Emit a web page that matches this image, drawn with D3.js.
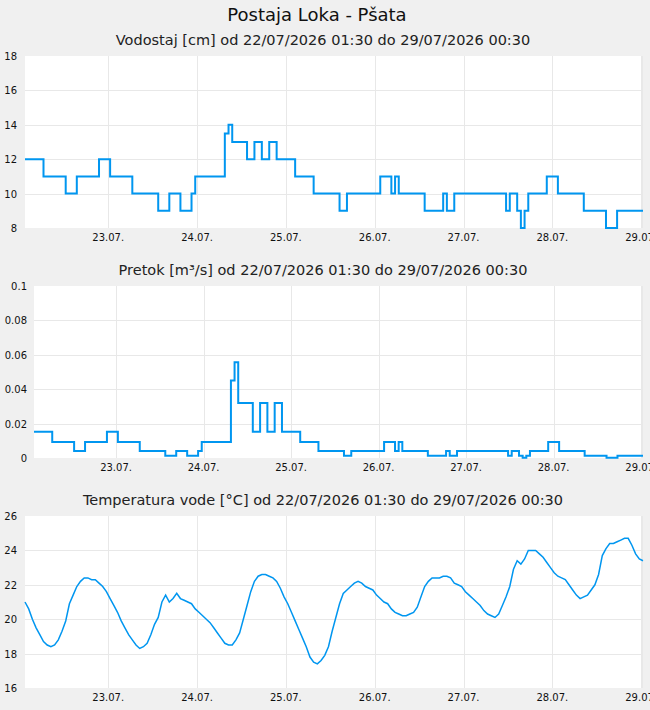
<!DOCTYPE html>
<html>
<head>
<meta charset="utf-8">
<script src="https://cdn.jsdelivr.net/npm/d3@7"></script>
<style>
  body { margin: 0; background: #f0f0f0; font-family: "DejaVu Sans", sans-serif; }
  svg text { fill: #111; }
</style>
</head>
<body>
<div id="chart"></div>
<script>
// Hourly readings from 22/07/2026 01:30 to 29/07/2026 00:30
const startTime = new Date(2026, 6, 22, 1, 30);
const endTime = new Date(2026, 6, 29, 0, 30);

const mainTitle = "Postaja Loka - Pšata";
const panelTitles = [
    "Vodostaj [cm] od 22/07/2026 01:30 do 29/07/2026 00:30",
    "Pretok [m³/s] od 22/07/2026 01:30 do 29/07/2026 00:30",
    "Temperatura vode [°C] od 22/07/2026 01:30 do 29/07/2026 00:30"
];

// water level [cm]
const level = [
    12,12,12,12,12,11,11,11,11,11,11,10,
    10,10,11,11,11,11,11,11,12,12,12,11,
    11,11,11,11,11,10,10,10,10,10,10,10,
    9,9,9,10,10,10,9,9,9,10,11,11,
    11,11,11,11,11,11,13.5,14,13,13,13,13,
    12,12,13,13,12,12,13,13,12,12,12,12,
    12,11,11,11,11,11,10,10,10,10,10,10,
    10,9,9,10,10,10,10,10,10,10,10,10,
    11,11,11,10,11,10,10,10,10,10,10,10,
    9,9,9,9,9,10,9,9,10,10,10,10,
    10,10,10,10,10,10,10,10,10,10,9,10,
    10,9,8,9,10,10,10,10,10,11,11,11,
    10,10,10,10,10,10,10,9,9,9,9,9,
    9,8,8,8,9,9,9,9,9,9,9,9
];

// discharge [m3/s]
const flow = [
    .0153,.0153,.0153,.0153,.0153,.0093,.0093,.0093,.0093,.0093,.0093,.0041,
    .0041,.0041,.0093,.0093,.0093,.0093,.0093,.0093,.0153,.0153,.0153,.0093,
    .0093,.0093,.0093,.0093,.0093,.0041,.0041,.0041,.0041,.0041,.0041,.0041,
    .0013,.0013,.0013,.0041,.0041,.0041,.0013,.0013,.0013,.0041,.0093,.0093,
    .0093,.0093,.0093,.0093,.0093,.0093,.045,.0556,.032,.032,.032,.032,
    .0153,.0153,.032,.032,.0153,.0153,.032,.032,.0153,.0153,.0153,.0153,
    .0153,.0093,.0093,.0093,.0093,.0093,.0041,.0041,.0041,.0041,.0041,.0041,
    .0041,.0013,.0013,.0041,.0041,.0041,.0041,.0041,.0041,.0041,.0041,.0041,
    .0093,.0093,.0093,.0041,.0093,.0041,.0041,.0041,.0041,.0041,.0041,.0041,
    .0013,.0013,.0013,.0013,.0013,.0041,.0013,.0013,.0041,.0041,.0041,.0041,
    .0041,.0041,.0041,.0041,.0041,.0041,.0041,.0041,.0041,.0041,.0013,.0041,
    .0041,.0013,.0002,.0013,.0041,.0041,.0041,.0041,.0041,.0093,.0093,.0093,
    .0041,.0041,.0041,.0041,.0041,.0041,.0041,.0013,.0013,.0013,.0013,.0013,
    .0013,.0002,.0002,.0002,.0013,.0013,.0013,.0013,.0013,.0013,.0013,.0013
];

// water temperature [°C]
const temp = [
    21.0,20.6,20.0,19.5,19.1,18.7,18.5,18.4,18.5,18.8,19.3,19.9,
    20.9,21.4,21.9,22.2,22.4,22.4,22.3,22.3,22.1,21.9,21.6,21.2,
    20.8,20.4,19.9,19.5,19.1,18.8,18.5,18.3,18.4,18.6,19.1,19.7,
    20.1,21.0,21.4,21.0,21.2,21.5,21.2,21.1,21.0,20.9,20.6,20.4,
    20.2,20.0,19.8,19.5,19.2,18.9,18.6,18.5,18.5,18.8,19.2,20.0,
    20.8,21.6,22.2,22.5,22.6,22.6,22.5,22.4,22.2,21.8,21.3,20.9,
    20.4,19.9,19.4,18.9,18.4,17.8,17.5,17.4,17.6,17.9,18.4,19.3,
    20.1,20.9,21.5,21.7,21.9,22.1,22.2,22.1,21.9,21.8,21.7,21.4,
    21.2,21.0,20.9,20.6,20.4,20.3,20.2,20.2,20.3,20.4,20.7,21.3,
    21.9,22.2,22.4,22.4,22.4,22.5,22.5,22.4,22.1,22.0,21.9,21.6,
    21.4,21.2,21.0,20.8,20.5,20.3,20.2,20.1,20.3,20.8,21.3,21.9,
    22.9,23.4,23.2,23.5,24.0,24.0,24.0,23.8,23.6,23.3,23.0,22.7,
    22.5,22.4,22.3,22.0,21.7,21.4,21.2,21.3,21.4,21.7,22.0,22.6,
    23.7,24.1,24.4,24.4,24.5,24.6,24.7,24.7,24.3,23.8,23.5,23.4
];

const levelTicks = [8, 10, 12, 14, 16, 18];
const flowTicks = [0, 0.02, 0.04, 0.06, 0.08, 0.1];
const tempTicks = [16, 18, 20, 22, 24, 26];

const width = 650;
const height = 710;
const lineColor = "#0096f0";

const svg = d3.select("#chart")
    .append("svg")
    .attr("width", width)
    .attr("height", height);

svg.append("text")
    .attr("x", 317)
    .attr("y", 21)
    .attr("text-anchor", "middle")
    .style("font-size", "18px")
    .text(mainTitle);

const times = level.map((d, i) => d3.timeHour.offset(startTime, i));

const panels = [
    { title: panelTitles[0], values: level, ticks: levelTicks, left: 25, top: 56, titleY: 45, labelX: 17, curve: d3.curveStepAfter, lw: 2 },
    { title: panelTitles[1], values: flow, ticks: flowTicks, left: 34, top: 286, titleY: 275, labelX: 27, curve: d3.curveStepAfter, lw: 2 },
    { title: panelTitles[2], values: temp, ticks: tempTicks, left: 25, top: 516, titleY: 505, labelX: 17, curve: d3.curveLinear, lw: 1.5 }
];

panels.forEach(p => {
    const right = 643;
    const bottom = p.top + 172;

    const x = d3.scaleTime().domain([startTime, endTime]).range([p.left, right]);
    const y = d3.scaleLinear()
        .domain([p.ticks[0], p.ticks[p.ticks.length - 1]])
        .range([bottom, p.top]);

    svg.append("text")
        .attr("x", 323)
        .attr("y", p.titleY)
        .attr("text-anchor", "middle")
        .style("font-size", "14.5px")
        .style("fill", "#222")
        .text(p.title);

    svg.append("rect")
        .attr("x", p.left)
        .attr("y", p.top)
        .attr("width", right - p.left)
        .attr("height", bottom - p.top)
        .attr("fill", "#fff");

    // grid
    const g = svg.append("g").attr("stroke", "#e8e8e8").attr("stroke-width", 1);
    g.selectAll("line.h")
        .data(p.ticks.slice(1, -1))
        .enter().append("line")
        .attr("x1", p.left).attr("x2", right)
        .attr("y1", d => Math.round(y(d)) + 0.5)
        .attr("y2", d => Math.round(y(d)) + 0.5);
    const days = d3.timeDay.range(d3.timeDay.ceil(startTime), endTime);
    g.selectAll("line.v")
        .data(days)
        .enter().append("line")
        .attr("x1", d => Math.round(x(d)) + 0.5)
        .attr("x2", d => Math.round(x(d)) + 0.5)
        .attr("y1", p.top).attr("y2", bottom);
    g.append("line")
        .attr("x1", right - 0.5).attr("x2", right - 0.5)
        .attr("y1", p.top).attr("y2", bottom);

    // y labels
    svg.selectAll(null)
        .data(p.ticks)
        .enter().append("text")
        .attr("x", p.labelX)
        .attr("y", d => y(d) + 4)
        .attr("text-anchor", "end")
        .style("font-size", "10px")
        .text(d => d3.format("~g")(d));

    // x labels
    svg.selectAll(null)
        .data(days)
        .enter().append("text")
        .attr("x", d => x(d))
        .attr("y", bottom + 13)
        .attr("text-anchor", "middle")
        .style("font-size", "10px")
        .text(d => d3.timeFormat("%d.%m.")(d));

    const line = d3.line()
        .x((d, i) => x(times[i]))
        .y(d => y(d))
        .curve(p.curve);

    svg.append("path")
        .datum(p.values)
        .attr("fill", "none")
        .attr("stroke", lineColor)
        .attr("stroke-width", p.lw)
        .attr("d", line);
});
</script>
</body>
</html>
